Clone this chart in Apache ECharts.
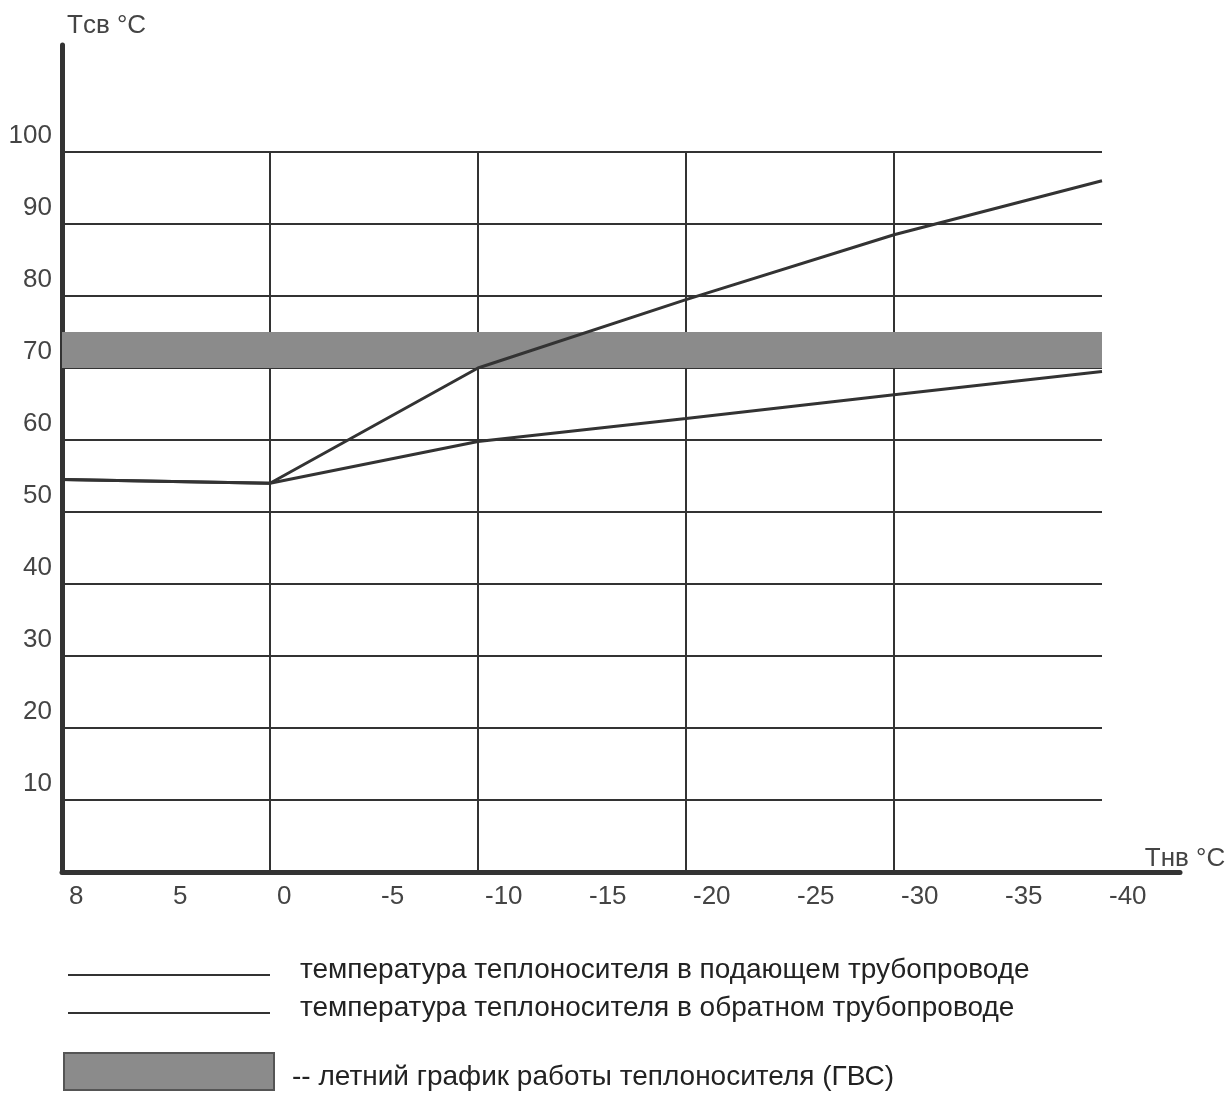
<!DOCTYPE html>
<html>
<head>
<meta charset="utf-8">
<script src="https://cdn.jsdelivr.net/npm/echarts@6/dist/echarts.min.js"></script>
<style>
  html, body { margin: 0; padding: 0; background: #fff; }
  #chart { width: 1230px; height: 1095px; }
</style>
</head>
<body>
<div id="chart"></div>
<script>
// наружная температура (категории оси X)
const outdoorTemps = ["8", "5", "0", "-5", "-10", "-15", "-20", "-25", "-30", "-35", "-40"];
// подающий трубопровод
const supplyLine = [["8", 54.5], ["0", 54], ["-10", 70], ["-20", 79.5], ["-30", 88.5], ["-40", 96]];
// обратный трубопровод
const returnLine = [["8", 54.5], ["0", 54], ["-10", 59.8], ["-20", 63], ["-30", 66.3], ["-40", 69.5]];
// летний график (ГВС): полоса от..до
const summerBand = [70, 75];
const legendTexts = [
  "температура теплоносителя в подающем трубопроводе",
  "температура теплоносителя в обратном трубопроводе",
  "-- летний график работы теплоносителя (ГВС)",
];

const FONT = "'Liberation Sans', Arial, sans-serif";
const INK = "#333";
const LABEL = "#444";
const chart = echarts.init(document.getElementById("chart"));

chart.setOption({
  animation: false,
  backgroundColor: "#fff",
  textStyle: { fontFamily: FONT },
  grid: [
    // сетка графика
    { left: 62, right: 128, top: 152, bottom: 223 },
    // только оси (длиннее сетки)
    { left: 62, right: 50, top: 45, bottom: 223 },
  ],
  xAxis: [
    {
      type: "category",
      gridIndex: 0,
      data: outdoorTemps,
      boundaryGap: false,
      axisLine: { show: false },
      axisTick: { show: false },
      axisLabel: {
        interval: 0,
        align: "left",
        margin: 12,
        padding: [0, 0, 0, 7],
        fontSize: 26,
        color: LABEL,
        fontFamily: FONT,
      },
      splitLine: {
        show: true,
        interval: (i) => i >= 2 && i <= 8 && i % 2 === 0,
        lineStyle: { color: INK, width: 2 },
      },
    },
    {
      type: "value",
      gridIndex: 1,
      min: 0,
      max: 1,
      axisLine: { show: true, lineStyle: { color: INK, width: 5 } },
      axisTick: { show: false },
      axisLabel: { show: false },
      splitLine: { show: false },
      name: "Tнв °C",
      nameLocation: "end",
      nameGap: 5,
      nameTextStyle: { fontSize: 26, color: LABEL, align: "center", verticalAlign: "bottom", fontFamily: FONT },
    },
  ],
  yAxis: [
    {
      type: "value",
      gridIndex: 0,
      min: 0,
      max: 100,
      interval: 10,
      axisLine: { show: false },
      axisTick: { show: false },
      axisLabel: {
        fontSize: 26,
        color: LABEL,
        margin: 10,
        verticalAlign: "bottom",
        padding: [0, 0, 3, 0],
        fontFamily: FONT,
        formatter: (v) => (v === 0 ? "" : String(v)),
      },
      splitLine: { show: true, lineStyle: { color: INK, width: 2 } },
    },
    {
      type: "value",
      gridIndex: 1,
      min: 0,
      max: 1,
      axisLine: { show: true, lineStyle: { color: INK, width: 5 } },
      axisTick: { show: false },
      axisLabel: { show: false },
      splitLine: { show: false },
      name: "Tсв °C",
      nameLocation: "end",
      nameGap: 6,
      nameTextStyle: { fontSize: 26, color: LABEL, align: "left", padding: [0, 0, 0, 5], fontFamily: FONT },
    },
  ],
  series: [
    {
      name: "ГВС",
      type: "line",
      xAxisIndex: 0,
      yAxisIndex: 0,
      data: [],
      markArea: {
        silent: true,
        itemStyle: { color: "#8b8b8b" },
        data: [[{ xAxis: outdoorTemps[0], yAxis: summerBand[0] }, { xAxis: outdoorTemps[outdoorTemps.length - 1], yAxis: summerBand[1] }]],
      },
    },
    {
      name: legendTexts[0],
      type: "line",
      xAxisIndex: 0,
      yAxisIndex: 0,
      data: supplyLine,
      showSymbol: false,
      lineStyle: { color: INK, width: 3 },
      z: 5,
    },
    {
      name: legendTexts[1],
      type: "line",
      xAxisIndex: 0,
      yAxisIndex: 0,
      data: returnLine,
      showSymbol: false,
      lineStyle: { color: INK, width: 3 },
      z: 5,
    },
  ],
  graphic: [
    { type: "line", shape: { x1: 68, y1: 975, x2: 270, y2: 975 }, style: { stroke: INK, lineWidth: 2 } },
    { type: "text", left: 300, top: 956, style: { text: legendTexts[0], fill: "#222", font: "28px " + FONT } },
    { type: "line", shape: { x1: 68, y1: 1013, x2: 270, y2: 1013 }, style: { stroke: INK, lineWidth: 2 } },
    { type: "text", left: 300, top: 994, style: { text: legendTexts[1], fill: "#222", font: "28px " + FONT } },
    { type: "rect", shape: { x: 64, y: 1053, width: 210, height: 37 }, style: { fill: "#8b8b8b", stroke: "#555", lineWidth: 2 } },
    { type: "text", left: 292, top: 1063, style: { text: legendTexts[2], fill: "#222", font: "28px " + FONT } },
  ],
});
</script>
</body>
</html>
